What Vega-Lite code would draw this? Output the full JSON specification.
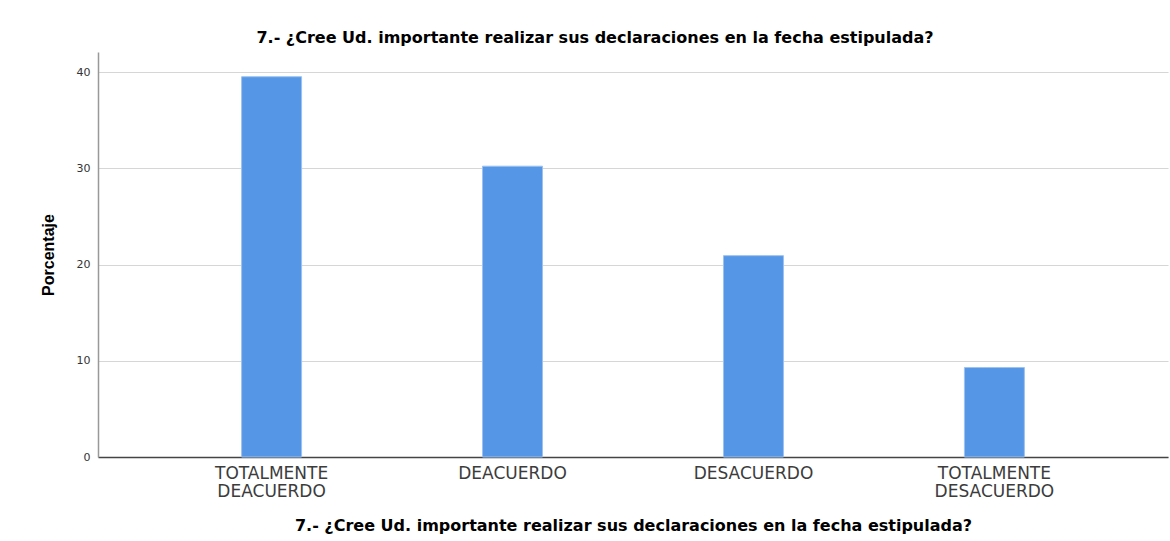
{
  "$schema": "https://vega.github.io/schema/vega-lite/v6.json",
  "autosize": {"type": "none"},
  "padding": {"left": 98, "top": 52, "right": 2, "bottom": 84},
  "width": 1070,
  "height": 405,
  "background": "white",
  "title": {
    "text": "7.- ¿Cree Ud. importante realizar sus declaraciones en la fecha estipulada?",
    "font": "DejaVu Sans",
    "fontSize": 16,
    "fontWeight": "bold",
    "color": "#000000",
    "anchor": "middle",
    "frame": "group",
    "dx": -38,
    "offset": 6
  },
  "data": {
    "values": [
      {"respuesta": "TOTALMENTE DEACUERDO", "porcentaje": 39.53},
      {"respuesta": "DEACUERDO", "porcentaje": 30.23},
      {"respuesta": "DESACUERDO", "porcentaje": 20.93},
      {"respuesta": "TOTALMENTE DESACUERDO", "porcentaje": 9.30}
    ]
  },
  "mark": {"type": "bar", "color": "#5596E6", "stroke": "#9cc2f0", "strokeWidth": 1},
  "encoding": {
    "x": {
      "field": "respuesta",
      "type": "nominal",
      "sort": null,
      "scale": {"paddingInner": 0.751, "paddingOuter": 0.596},
      "axis": {
        "title": "7.- ¿Cree Ud. importante realizar sus declaraciones en la fecha estipulada?",
        "titleFont": "DejaVu Sans",
        "titleFontSize": 16,
        "titleFontWeight": "bold",
        "titleColor": "#000000",
        "titlePadding": 18,
        "labelExpr": "split(datum.label, ' ')",
        "labelAngle": 0,
        "labelFont": "DejaVu Sans",
        "labelFontSize": 17,
        "labelColor": "#3c3c3c",
        "labelLineHeight": 18,
        "labelPadding": 8,
        "ticks": false,
        "domainColor": "#444444",
        "domainWidth": 1.5,
        "grid": false
      }
    },
    "y": {
      "field": "porcentaje",
      "type": "quantitative",
      "scale": {"domain": [0, 42.1], "nice": false},
      "axis": {
        "title": "Porcentaje",
        "titleFont": "Liberation Sans",
        "titleFontSize": 16,
        "titleFontWeight": "bold",
        "titleColor": "#000000",
        "titlePadding": 20,
        "values": [0, 10, 20, 30, 40],
        "labelFont": "DejaVu Sans",
        "labelFontSize": 11,
        "labelColor": "#333333",
        "labelPadding": 8,
        "ticks": false,
        "domainColor": "#999999",
        "domainWidth": 1.5,
        "grid": true,
        "gridColor": "#d6d6d6",
        "gridWidth": 1
      }
    }
  },
  "config": {"view": {"stroke": null}}
}
